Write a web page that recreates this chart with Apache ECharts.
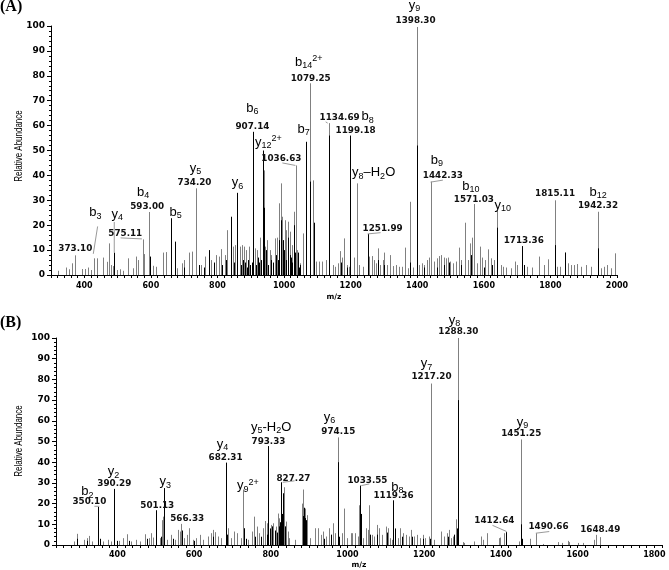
<!DOCTYPE html>
<html><head><meta charset="utf-8">
<script src="https://cdn.jsdelivr.net/npm/echarts@6/dist/echarts.min.js"></script>
<style>html,body{margin:0;padding:0;background:#fff}#c{width:669px;height:570px}</style>
</head><body><div id="c"></div>
<script>
// ---------- Panel A data: [m/z, relative abundance] ----------
const peaksGrayA = [
[322,1.7],[345,3],[355,2.3],[362,4.7],[373.1,7.9],[392,2.4],[402,2.4],[412,3],[419,2],[429,6.7],[437,6.7],[457,7],[467,5.3],[474,12.7],[480,4],[485,3.6],[499,2],[507,2.3],[517,1.7],[532,6.7],[545,2.7],[555,7.4],[562,6],[575.11,14.3],[580,8.4],[593.0,25.3],[607,3.7],[615,3.3],[637,9],[645,9.2],[679,2.7],[692,4.7],[699,6],[714,9],[722,9.4],[734.2,34.8],[737,7.4],[752,4],[764,7.4],[782,6],[797,8],[805,7.4],[812,10.4],[822,8],[829,18],[847,11.4],[852,12],[867,11.4],[874,12],[879,11.4],[887,10],[895,11.4],[912,10.7],[919,10],[927,15],[940,42],[944,11.4],[949,14],[957,10],[962,8],[972,14.7],[979,15],[985,28.8],[990,36.8],[995,23.4],[1002,22],[1007,18],[1012,21.4],[1019,17.4],[1025,12],[1029,25.4],[1036.63,44],[1039,10],[1047,4.7],[1057,16.7],[1079.25,77],[1087,38],[1097,5.4],[1105,5.4],[1115,5.4],[1127,6],[1134.69,61],[1147,4],[1153,3.3],
[1161,4.7],[1169,9.6],[1174,7],[1181,14.7],[1188,4],[1194,3.3],[1209,7],[1218,36.8],[1224,4],[1236,3.3],[1256,7.4],[1263,7.6],[1269,6],[1276,4.7],[1283,10.7],[1289,4],[1296,6],[1301,9],[1309,4],[1318,8],[1326,3.6],[1336,4],[1344,3.3],[1353,3.3],[1363,11],[1371,2.7],[1379,29.4],[1386,3],[1398.3,99.6],[1406,4],[1413,4.7],[1421,4],[1428,6],[1436,7],[1442.33,37.5],[1451,5.4],[1459,6.7],[1466,7.6],[1471,8],[1479,7],[1486,6.7],[1491,7],[1499,5.4],[1506,4.7],[1516,5.4],[1524,11],[1531,6],[1544,21],[1551,6],[1559,12.7],[1564,15],[1571.03,28.5],[1581,4.7],[1588,11.4],[1596,7],[1603,6],[1613,10.3],[1621,6.7],[1631,6],[1641,26],[1651,4],[1659,3.3],[1666,3],[1681,2.7],[1693,5.4],[1701,4],[1713.36,11.6],[1721,4],[1731,3.3],[1746,3],[1766,7.4],[1781,4],[1793,6.3],[1815.11,30],[1821,3.3],[1829,3.3],[1843,9],[1853,4.7],[1863,4],[1871,4],[1879,4.4],[1891,3.3],[1906,4],[1921,3.3],[1942.32,25.4],[1953,2.7],[1961,3.3],[1969,4],[1981,2.7],[1993,8.7]
];
const peaksBlackA = [
[490,9],[597,7.4],[660,22.8],[672,13.4],[700,3],[745,4],[760,3],[774,10],[790,5],[815,4],[826,6],[840,23.4],[850,5],[858,33],[870,4],[878,6],[884,5],[888,3],[893,6],[898,4],[903,5],[907.14,57.5],[915,4],[921,7],[925,5],[931,6],[936,50],[940,27],[946,10],[952,4],[961,6],[966,5],[976,8],[982,6],[986,14],[991,22],[996,14],[1001,10],[1005,6],[1013,15],[1017,8],[1021,7],[1025,5],[1030,20],[1034,9],[1041,9],[1045,3],[1049,4],
[1065,53.5],[1079.25,37.5],[1089,21],[1134.69,56],[1170,5],[1190,3],[1199.18,56],[1251.99,16.5],[1283,6],[1300,4],[1378,5],[1398.3,52],[1420,3],[1460,3],[1480,4],[1495,5],[1530,4],[1560,8],[1600,3],[1625,4],[1641,19],[1713.36,11.6],[1720,4],[1815.11,12],[1843,9],[1942.32,10.7]
];
// ---------- Panel B data ----------
const peaksGrayB = [
[288,1.7],[294,5.4],[314,2.5],[320,3.3],[327,4.4],[334,1.7],[362,1.7],[375,2.5],[383,1.7],[405,2],[414,3.3],[424,5.2],[436,1.7],[449,2.5],[459,1.7],[473,5.2],[482,3.3],[488,5.7],[494,3.6],[510,3.3],[516,12],[520,13.7],[529,2.5],[540,4.9],[549,2.5],[557,7.3],[563,6.5],[566.33,10.2],[575,3.3],[581,4.9],[588,8.1],[596,2.5],[605,3.3],[615,4.9],[624,2.5],[636,4.1],[644,5.7],[649,7.3],[655,6.2],[662,4.1],[670,3.3],[688,8.1],[696,3.3],[705,6.5],[711,5.7],[722,3.3],[728,26.8],[740,2.5],[751,6.5],[757,13.7],[763,8.9],[770,5.7],[779,8.1],[786,11.6],[789,10.5],[801,9.7],[807,10.5],[814,8.9],[818,15.2],[822,12.9],[827,23.2],[835,27.9],[840,11.3],[844,6.5],[848,3.3],[864,2.5],[881,20],[885,26.8],[889,17.6],[894,14.4],[901,3.3],[914,8.1],[922,8.1],[931,4.9],[937,6.5],[944,4.1],[953,8.1],[961,10.5],[968,5.7],[974.15,52],[986,5.7],[992,17.6],[1000,3.3],[1009,5.7],[1013,5.7],[1020,5.7],[1027,4.1],[1031,19.2],[1041,3.3],[1048,8.1],[1053,7.3],[1057,19.2],[1064,4.9],[1070,4.1],[1076,9.7],[1083,8.1],[1090,4.9],[1100,8.9],[1105,8.1],[1111,3.3],[1116,2.5],[1131,3.3],[1138,8.1],[1146,5.7],[1153,4.9],[1160,4.1],[1166,7.3],[1174,4.1],[1181,4.9],[1189,3.3],[1196,4.9],[1203,3.3],[1212,4.1],[1217.2,78],[1226,2.5],[1244,6.5],[1252,4.1],[1259,5.7],[1264,7.3],[1270,3.3],[1276,4.1],[1283,12.4],[1288.3,100],[1300,1.4],[1305,1],[1331,1.7],[1348,4.1],[1354,2.5],[1364,5.7],[1394,3.3],[1398,3.6],[1409,5.7],[1448,1.7],[1451.25,51],[1476,3],[1490.66,5.7],[1509,0.5],[1548,1.4],[1558,1],[1574,2],[1578,1.4],[1600,1],[1613,1],[1642,2.5],[1648.49,4.9],[1658,3.8]
];
const peaksBlackB = [
[296,3],[322,2],[350.1,18.4],[356,3],[390.29,27.1],[398,2],[430,2],[478,3],[501.13,16.8],[513,4],[522,27.5],[545,3],[568,7],[600,2],[650,4],[682.31,39.8],[686,5],[731,8.1],[735,3],[760,4],[774,4],[790,5],[793.33,47.8],[799,8],[804,9],[810,7],[816,6],[821,9],[824,11],[827.27,30.3],[829,15],[833,25],[838,9],[883,14],[887,18],[889,13],[892,12],[940,3],[956,5],[974.15,40],[978,4],[1033.55,28.7],[1036,15],[1058,5],[1078,5],[1103,6],[1119.36,21.6],[1123,8],[1141,4],[1168,4],[1198,3],[1214,3],[1262,4],[1278,5],[1286,8],[1288.3,70],[1412.64,6.2],[1451.25,10],[1455,3]
];
// ---------- Annotations: [text, m/z, level] ----------
const valueLabelsA = [
['373.10',373,10.4],['575.11',523,16.5],['593.00',589,27.3],['734.20',731,37],['907.14',905,59.4],['1036.63',992,46.6],['1079.25',1080,78.7],['1134.69',1167,63],['1199.18',1215,57.8],['1251.99',1296,18.5],['1398.30',1395,102],['1442.33',1477,39.8],['1571.03',1570,30.1],['1713.36',1720,13.7],['1815.11',1814,32.5],['1942.32',1943,27.7]
];
const ionLabelsA = [
['b_{3}',433,25],['y_{4}',499,24.5],['b_{4}',577,33.3],['b_{5}',674,25.3],['y_{5}',734,43],['y_{6}',860,37],['b_{6}',905,67],['y_{12}^{2+}',953,53.4],['b_{7}',1059,58.6],['b_{14}^{2+}',1074,85.5],['b_{8}',1251,63.5],['y_{8}–H_{2}O',1269,41],['y_{9}',1392,108.4],['b_{9}',1459,46.2],['b_{10}',1561,35.7],['y_{10}',1657,28],['b_{12}',1943,33.3]
];
const leadersA = [[440,19.5,427,8.5],[490,21.3,490,9],[509,14.9,573,14.5],[995,45,1034,44],[1125,61.5,1131,61],[1251,16.5,1290,17],[1440,37.3,1477,38.1]];
const valueLabelsB = [
['350.10',327,20.6],['390.29',392,29.7],['501.13',504,18.7],['566.33',582,12.4],['682.31',682,42.1],['793.33',794,49.8],['827.27',859,32],['974.15',976,54.5],['1033.55',1052,31.1],['1119.36',1120,23.9],['1217.20',1219,81.3],['1288.30',1289,102.9],['1412.64',1383,11.5],['1451.25',1453,53.6],['1490.66',1524,8.6],['1648.49',1659,7.2]
];
const ionLabelsB = [
['b_{2}',322,25.8],['y_{2}',390,35.4],['y_{3}',525,30.6],['y_{4}',674,48.8],['y_{9}^{2+}',740,28.7],['y_{5}-H_{2}O',801,56.9],['y_{6}',953,61.7],['b_{8}',1130,27.8],['y_{7}',1206,87.6],['y_{8}',1279,108.6],['y_{9}',1456,59.3]
];
const leadersB = [[340,18.7,353,18.7],[831,30.3,862,31],[1036,28.7,1057,29.5],[1378,9.5,1415,6.5],[1491,5.7,1526,6.5]];
const yTicks = [0,10,20,30,40,50,60,70,80,90,100];

const NUMFONT = 'DejaVu Sans';
function peakSeries(i, data, color, z){
  return {type:'custom', xAxisIndex:i, yAxisIndex:i, data:data, z:z, silent:true, animation:false,
    encode:{x:0,y:1},
    renderItem:function(params, api){
      const t = api.coord([api.value(0), api.value(1)]);
      const b = api.coord([api.value(0), 0]);
      const x = Math.round(t[0]) + 0.5;
      return {type:'line', shape:{x1:x,y1:b[1],x2:x,y2:t[1]}, style:{stroke:color, lineWidth:1}};
    }};
}
function leaderSeries(i, data){
  return {type:'custom', xAxisIndex:i, yAxisIndex:i, data:data, z:5, silent:true, animation:false, clip:false,
    encode:{x:[0,2],y:[1,3]},
    renderItem:function(params, api){
      const a = api.coord([api.value(0), api.value(1)]);
      const b = api.coord([api.value(2), api.value(3)]);
      return {type:'line', shape:{x1:a[0],y1:a[1],x2:b[0],y2:b[1]}, style:{stroke:'#9a9a9a', lineWidth:1}};
    }};
}
function valueSeries(i, items){
  return {type:'custom', xAxisIndex:i, yAxisIndex:i, data:items.map(d=>[d[1],d[2]]), z:10, silent:true, animation:false, clip:false,
    encode:{x:0,y:1},
    renderItem:function(params, api){
      const p = api.coord([api.value(0), api.value(1)]);
      return {type:'text', x:p[0], y:p[1], scaleX:1.1, scaleY:1,
        style:{text:items[params.dataIndex][0], fontFamily:NUMFONT, fontWeight:'bold', fontSize:8, fill:'#111', align:'center', verticalAlign:'middle'}};
    }};
}
function toRich(s){
  let out=''; const re=/([_^])\{([^}]*)\}|([^_^]+)/g; let m;
  while((m=re.exec(s))){ if(m[3]) out+='{b|'+m[3]+'}'; else out+='{'+(m[1]==='_'?'s':'p')+'|'+m[2]+'}'; }
  return out;
}
const ionRich = {
  b:{fontFamily:'Liberation Sans', fontSize:13, lineHeight:16, verticalAlign:'middle', fill:'#000'},
  s:{fontFamily:'Liberation Sans', fontSize:9, lineHeight:6, verticalAlign:'bottom', fill:'#000'},
  p:{fontFamily:'Liberation Sans', fontSize:9, lineHeight:8, verticalAlign:'top', fill:'#000'}
};
function ionSeries(i, items){
  return {type:'custom', xAxisIndex:i, yAxisIndex:i, data:items.map(d=>[d[1],d[2]]), z:10, silent:true, animation:false, clip:false,
    encode:{x:0,y:1},
    renderItem:function(params, api){
      const p = api.coord([api.value(0), api.value(1)]);
      return {type:'text', x:p[0], y:p[1],
        style:{text:toRich(items[params.dataIndex][0]), rich:ionRich, align:'center', verticalAlign:'middle', fill:'#000'}};
    }};
}
function xAxisCfg(i, min, max, gap, margin){
  return {type:'value', gridIndex:i, min:min, max:max, interval:20,
    axisLine:{onZero:false, lineStyle:{color:'#000', width:1}},
    axisTick:{show:true, length:3, lineStyle:{color:'#000'}},
    splitLine:{show:false},
    axisLabel:{interval:0, margin:margin, color:'#000', fontFamily:NUMFONT, fontWeight:'bold', fontSize:8,
      formatter:function(v){ return (v % 200 === 0) ? String(v) : ''; }},
    name:'m/z', nameLocation:'middle', nameGap:gap,
    nameTextStyle:{color:'#000', fontFamily:NUMFONT, fontWeight:'bold', fontSize:7.5}};
}
function yAxisCfg(i){
  return {type:'value', gridIndex:i, min:0, max:100, interval:10,
    axisLine:{show:true, onZero:false, lineStyle:{color:'#000', width:1}},
    axisTick:{show:true, length:4, lineStyle:{color:'#000'}},
    minorTick:{show:true, splitNumber:5, length:2, lineStyle:{color:'#000'}},
    splitLine:{show:false},
    axisLabel:{margin:6, color:'#000', fontFamily:NUMFONT, fontWeight:'bold', fontSize:9,
      customValues: yTicks}};
}
const chart = echarts.init(document.getElementById('c'), null, {renderer:'canvas'});
chart.setOption({
  animation:false,
  backgroundColor:'#fff',
  grid:[{left:51, top:26, width:566, height:249}, {left:56, top:338, width:606, height:209}],
  xAxis:[xAxisCfg(0,300,2000,18,7), xAxisCfg(1,240,1820,16,6)],
  yAxis:[yAxisCfg(0), yAxisCfg(1)],
  graphic:[
    {type:'text', x:0, y:-1, style:{text:'(A)', fontFamily:'Liberation Serif', fontWeight:'bold', fontSize:16, fill:'#000', verticalAlign:'top'}},
    {type:'text', x:0, y:315, style:{text:'(B)', fontFamily:'Liberation Serif', fontWeight:'bold', fontSize:16, fill:'#000', verticalAlign:'top'}},
    {type:'text', x:19, y:146, rotation:Math.PI/2, scaleX:0.76, style:{text:'Relative Abundance', fontFamily:'Liberation Sans', fontSize:10.5, fill:'#000', align:'center', verticalAlign:'middle'}},
    {type:'text', x:19, y:441, rotation:Math.PI/2, scaleX:0.76, style:{text:'Relative Abundance', fontFamily:'Liberation Sans', fontSize:10.5, fill:'#000', align:'center', verticalAlign:'middle'}}
  ],
  series:[
    peakSeries(0, peaksGrayA, '#808080', 2), peakSeries(0, peaksBlackA, '#000', 3),
    leaderSeries(0, leadersA), valueSeries(0, valueLabelsA), ionSeries(0, ionLabelsA),
    peakSeries(1, peaksGrayB, '#808080', 2), peakSeries(1, peaksBlackB, '#000', 3),
    leaderSeries(1, leadersB), valueSeries(1, valueLabelsB), ionSeries(1, ionLabelsB)
  ]
});
</script></body></html>
